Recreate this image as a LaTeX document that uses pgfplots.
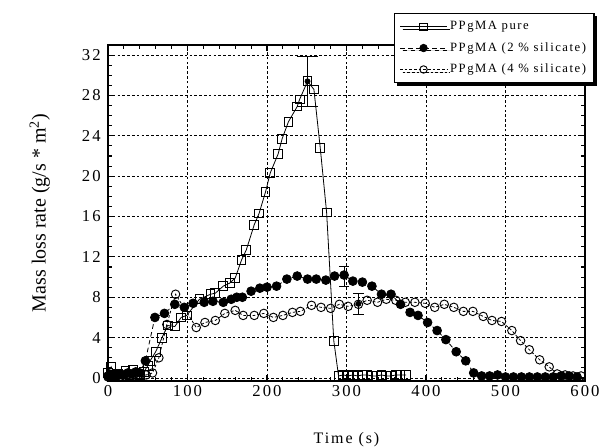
\documentclass[border=0pt]{standalone}
\usepackage{pgfplots}
\pgfplotsset{compat=1.18}
\usepackage{fontspec}
\setmainfont{Liberation Serif}
\newfontfamily\spc[LetterSpace=12]{Liberation Serif}
\usetikzlibrary{calc,shadows}

\begin{document}
\begin{tikzpicture}
\begin{axis}[
    scale only axis,
    width=357.75pt, height=252pt,
    xmin=0, xmax=600, ymin=-0.3, ymax=33,
    xtick={0,100,...,600}, ytick={0,4,...,32},
    minor x tick num=4, minor y tick num=3,
    tick align=inside,
    major tick length=4.5pt, minor tick length=3pt,
    axis line style={line width=1pt},
    tick style={black, line width=0.8pt},
    grid=major,
    major grid style={black, line width=0.7pt, dash pattern=on 2pt off 1.6pt},
    /pgf/number format/assume math mode=true,
    tick label style={font=\spc\fontsize{12.5}{13}\selectfont},
    yticklabel style={xshift=-2pt},
    xlabel={Time (s)},
    xlabel style={font=\spc\fontsize{12}{13}\selectfont, at={(axis description cs:0.5,-0.176)}, anchor=center},
    ylabel={Mass loss rate (g/s * m\textsuperscript{2})},
    ylabel style={font=\fontsize{15}{16}\selectfont, at={(axis description cs:-0.143,0.5)}, anchor=center},
    legend style={at={(rel axis cs:1.02,1.095)}, anchor=north east, draw=black, line width=0.8pt, fill=white,
        font=\spc\fontsize{9.5}{10}\selectfont, row sep=4pt, inner sep=4pt,
        drop shadow={shadow xshift=2pt, shadow yshift=-2pt, fill=black, opacity=1}},
    legend cell align=left,
    legend image code/.code={\draw[mark repeat=2,mark phase=2,#1,mark size=2.8pt] plot coordinates {(0cm,0cm) (0.62cm,0cm) (1.24cm,0cm)};},
]
% PPgMA pure
\addplot[black, line width=0.6pt, mark=square, mark size=3.3pt, mark options={solid, line width=0.7pt}]
coordinates {
(0,0.5) (4,1.1) (8,0.3) (13,0.4) (18,0.2) (22,0.7) (27,0.3) (31,0.8) (36,0.4) (40,0.3)
(45,0.6) (50,1.2) (53,1.7) (60,2.6) (68,4.0) (75,5.2) (84,5.1) (92,6.0) (99,6.2)
(115,7.8) (129,8.3) (135,8.4) (145,9.1) (153,9.4) (160,9.9) (168,11.7) (174,12.7)
(184,15.2) (190,16.3) (198,18.4) (204,20.3) (214,22.2) (219,23.7) (227,25.4)
(238,26.9) (241,27.6) (251,29.4) (259,28.6) (267,22.8) (275,16.4) (284,3.7)
(290,0.2) (296,0.3) (302,0.2) (308,0.3) (314,0.2) (320,0.3) (326,0.3) (332,0.2)
(338,0.2) (344,0.3) (350,0.2) (356,0.2) (362,0.3) (368,0.3) (375,0.3)
};
\addlegendentry{PPgMA pure}
% PPgMA 2 % silicate
\addplot[black, line width=0.6pt, dash pattern=on 3.5pt off 2.5pt, mark=*, mark size=3.3pt, mark options={solid}]
coordinates {
(0,0.2) (5,0.3) (10,0.2) (15,0.4) (20,0.3) (25,0.5) (30,0.4) (35,0.6) (40,0.5)
(47,1.7) (59,6.0) (71,6.4) (84,7.3) (96,7.0) (107,7.4) (121,7.5) (132,7.6) (145,7.5)
(155,7.8) (162,8.0) (169,8.0) (180,8.6) (191,8.9) (200,9.0) (212,9.1) (225,9.8)
(238,10.1) (251,9.8) (262,9.8) (274,9.7) (285,10.1) (297,10.2) (308,9.6) (320,9.5)
(332,9.1) (344,8.3) (356,8.3) (368,7.3) (380,6.5) (390,6.2) (402,5.5) (414,4.7)
(425,3.8) (438,2.6) (450,1.7) (460,0.5) (470,0.2) (480,0.2) (490,0.3) (500,0.1)
(510,0.1) (520,0.1) (530,0.1) (540,0.1) (550,0.1) (560,0.1) (570,0.2) (580,0.2) (590,0.1)
};
\addlegendentry{PPgMA (2 \% silicate)}
% PPgMA 4 % silicate
\addplot[black, line width=0.6pt, dash pattern=on 2pt off 1.5pt, mark=o, mark size=3.2pt, mark options={solid, line width=0.7pt}]
coordinates {
(0,0.1) (8,0.2) (16,0.2) (24,0.3) (32,0.2) (40,0.3) (48,0.3) (56,0.5) (64,2.0)
(74,5.3) (85,8.3) (111,5.0) (122,5.5) (135,5.7) (147,6.4) (160,6.7) (170,6.2)
(184,6.2) (196,6.4) (208,6.0) (220,6.2) (232,6.5) (242,6.6) (256,7.2) (268,7.0)
(280,6.9) (291,7.3) (302,7.1) (315,7.3) (326,7.7) (339,7.5) (350,7.8) (362,7.7)
(374,7.5) (386,7.5) (399,7.4) (411,7.0) (423,7.3) (435,7.0) (447,6.6) (459,6.6)
(472,6.1) (483,5.7) (495,5.6) (508,4.7) (519,3.7) (530,2.8) (543,1.8) (555,1.1)
(565,0.4) (575,0.3) (585,0.2) (595,0.2)
};
\addlegendentry{PPgMA (4 \% silicate)}
% error bars
\addplot[forget plot, only marks, mark=none, error bars/.cd, y dir=both, y explicit,
    error bar style={black, solid, line width=0.7pt}, error mark options={black, rotate=90, mark size=8pt}]
coordinates {(251,29.4) +- (0,2.5)};
\addplot[forget plot, only marks, mark=none, error bars/.cd, y dir=both, y explicit,
    error bar style={black, solid, line width=0.7pt}, error mark options={black, rotate=90, mark size=4pt}]
coordinates {(297,10.1) +- (0,1.0) (315,7.35) +- (0,1.05)};
\end{axis}
\pgfresetboundingbox
\path[use as bounding box] ($(current axis.south west)+(-81pt,-49.5pt)$) rectangle ++(450pt,335.25pt);
\end{tikzpicture}
\end{document}
